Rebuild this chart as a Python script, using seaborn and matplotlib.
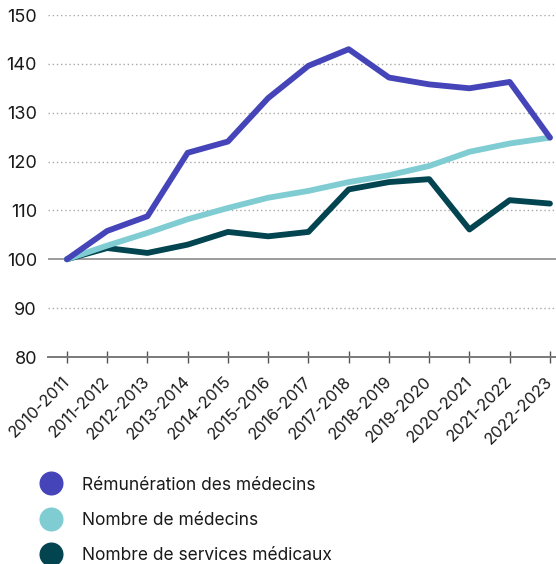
import matplotlib
matplotlib.use("Agg")
import pandas as pd
import seaborn as sns
import matplotlib.pyplot as plt
import matplotlib.transforms as mtransforms
from matplotlib.lines import Line2D

sns.set_style("white")
plt.rcParams["font.family"] = ["Inter", "DejaVu Sans"]

# Indices (base 100 en 2010-2011)
periods = [
    "2010-2011", "2011-2012", "2012-2013", "2013-2014", "2014-2015",
    "2015-2016", "2016-2017", "2017-2018", "2018-2019", "2019-2020",
    "2020-2021", "2021-2022", "2022-2023",
]
remuneration = [100, 105.8, 108.8, 121.8, 124.1, 133.0, 139.6, 143.0, 137.2, 135.8, 135.0, 136.3, 124.9]
nb_medecins = [100, 102.8, 105.4, 108.2, 110.5, 112.6, 114.0, 115.8, 117.2, 119.1, 122.0, 123.7, 124.9]
nb_services = [100, 102.3, 101.3, 103.0, 105.6, 104.7, 105.6, 114.3, 115.8, 116.4, 106.1, 112.1, 111.4]

series_names = ["Rémunération des médecins", "Nombre de médecins", "Nombre de services médicaux"]
colors = ["#4545B9", "#7FCDD2", "#02444F"]
yticks = [80, 90, 100, 110, 120, 130, 140, 150]

df = pd.DataFrame({
    "x": list(range(len(periods))) * 3,
    "value": remuneration + nb_medecins + nb_services,
    "serie": [series_names[0]] * len(periods) + [series_names[1]] * len(periods)
    + [series_names[2]] * len(periods),
})

fig = plt.figure(figsize=(5.56, 5.64), dpi=100)
ax = fig.add_axes([48 / 556, 1 - 357 / 564, 508 / 556, 342 / 564])

# grid lines
for v in yticks[1:]:
    if v == 100:
        ax.axhline(v, color="#9c9c9c", lw=1.4, zorder=1)
    else:
        ax.axhline(v, color="#a8a8a8", lw=1.0, ls=(0, (1, 2)), zorder=1)

# draw in reverse order so purple stays on top
sns.lineplot(
    data=df, x="x", y="value", hue="serie", hue_order=series_names[::-1],
    palette=dict(zip(series_names, colors)), linewidth=4.2, legend=False, ax=ax,
    zorder=3,
)

ax.set_xlim(-0.47, 12.15)
ax.set_ylim(80, 150)
ax.set_yticks(yticks)
ax.set_yticklabels([str(v) for v in yticks], fontsize=13, color="#1a1a1a")
ax.set_xticks(range(len(periods)))
ax.set_xticklabels(periods, rotation=45, ha="right", va="top", rotation_mode="anchor",
                   fontsize=11.8, color="#1a1a1a")
ax.tick_params(axis="y", left=False, length=0, pad=8)
ax.tick_params(axis="x", bottom=True, direction="inout", length=8, width=1,
               color="#555555", pad=8)
# nudge x labels a little to the left so the last one stays inside
shift = mtransforms.ScaledTranslation(-5 / 100, 0, fig.dpi_scale_trans)
for lab in ax.get_xticklabels():
    lab.set_transform(lab.get_transform() + shift)
ax.set_xlabel("")
ax.set_ylabel("")

for side in ["top", "right", "left"]:
    ax.spines[side].set_visible(False)
ax.spines["bottom"].set_color("#7a7a7a")
ax.spines["bottom"].set_linewidth(1.4)

handles = [Line2D([], [], marker="o", ls="", markersize=16.3, color=c) for c in colors]
fig.legend(handles, series_names, loc="upper left", bbox_to_anchor=(33.3 / 556, 1 - 476.5 / 564),
           frameon=False, fontsize=12.5, labelspacing=1.05, handletextpad=0.78,
           borderaxespad=0, borderpad=0, labelcolor="#1a1a1a")

fig.savefig("out.png", dpi=100)
